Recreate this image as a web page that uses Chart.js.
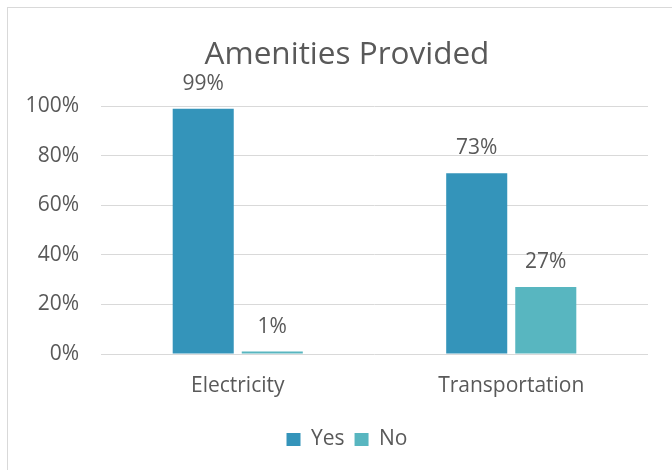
<!DOCTYPE html>
<html>
<head>
<meta charset="utf-8">
<script src="https://cdn.jsdelivr.net/npm/chart.js@4.4.1/dist/chart.umd.min.js"></script>
<style>
  html, body { margin: 0; padding: 0; background: #fff; }
  #frame { position: absolute; left: 7px; top: 7px; width: 700px; height: 500px; border: 1px solid #d9d9d9; }
  #wrap { position: absolute; left: 0; top: 0; width: 672px; height: 470px; }
</style>
</head>
<body>
<div id="frame"></div>
<div id="wrap"><canvas id="grafico"></canvas></div>
<script>
// dados
const categorias = ['Electricity', 'Transportation'];
const sim = [99, 73];   // Yes
const nao = [1, 27];    // No
const ticksY = [0, 20, 40, 60, 80, 100];

const corTexto = '#595959';
const fonte = '"Open Sans", sans-serif';

// plugin simples para escrever os valores acima das barras
const rotulos = {
    id: 'rotulos',
    afterDatasetsDraw(chart) {
        const ctx = chart.ctx;
        ctx.save();
        ctx.font = '21px ' + fonte;
        ctx.fillStyle = corTexto;
        ctx.textAlign = 'center';
        ctx.textBaseline = 'alphabetic';
        chart.data.datasets.forEach((ds, i) => {
            chart.getDatasetMeta(i).data.forEach((bar, j) => {
                ctx.fillText(ds.data[j] + '%', bar.x, bar.y - 19);
            });
        });
        ctx.restore();
    }
};

// título e legenda ficam centrados na moldura e não só na área do gráfico
const centraBlocos = {
    id: 'centraBlocos',
    afterLayout(chart) {
        [chart.legend, chart.titleBlock].forEach(b => {
            if (!b) return;
            b.left = 7;
            b.right = 687;
            b.width = 680;
        });
    }
};

const ctx = document.getElementById('grafico').getContext('2d');
new Chart(ctx, {
    type: 'bar',
    data: {
        labels: categorias,
        datasets: [
            { label: 'Yes', data: sim, backgroundColor: '#3494BA' },
            { label: 'No', data: nao, backgroundColor: '#58B6C0' }
        ]
    },
    options: {
        responsive: true,
        maintainAspectRatio: false,
        animation: false,
        layout: { padding: { left: 0, right: 24, top: 0, bottom: 10 } },
        categoryPercentage: 0.505,
        barPercentage: 0.884,
        plugins: {
            title: {
                display: true,
                text: 'Amenities Provided',
                color: corTexto,
                font: { family: fonte, size: 31.5, weight: 'normal' },
                padding: { top: 36, bottom: 32.5 }
            },
            legend: {
                position: 'bottom',
                labels: {
                    color: corTexto,
                    font: { family: fonte, size: 21 },
                    boxWidth: 14,
                    boxHeight: 13,
                    padding: 10
                }
            },
            tooltip: { enabled: false }
        },
        scales: {
            x: {
                grid: { display: false },
                border: { display: false },
                ticks: { color: corTexto, font: { family: fonte, size: 21 }, padding: 11 },
                afterFit(scale) { scale.height = 65; }
            },
            y: {
                min: 0,
                max: 100,
                afterBuildTicks(scale) { scale.ticks = ticksY.map(v => ({ value: v })); },
                afterFit(scale) { scale.width = 101; },
                grid: { color: '#D9D9D9', drawTicks: false },
                border: { display: false },
                ticks: {
                    color: corTexto,
                    font: { family: fonte, size: 21 },
                    padding: 22,
                    callback: v => v + '%'
                }
            }
        }
    },
    plugins: [rotulos, centraBlocos]
});
</script>
</body>
</html>
